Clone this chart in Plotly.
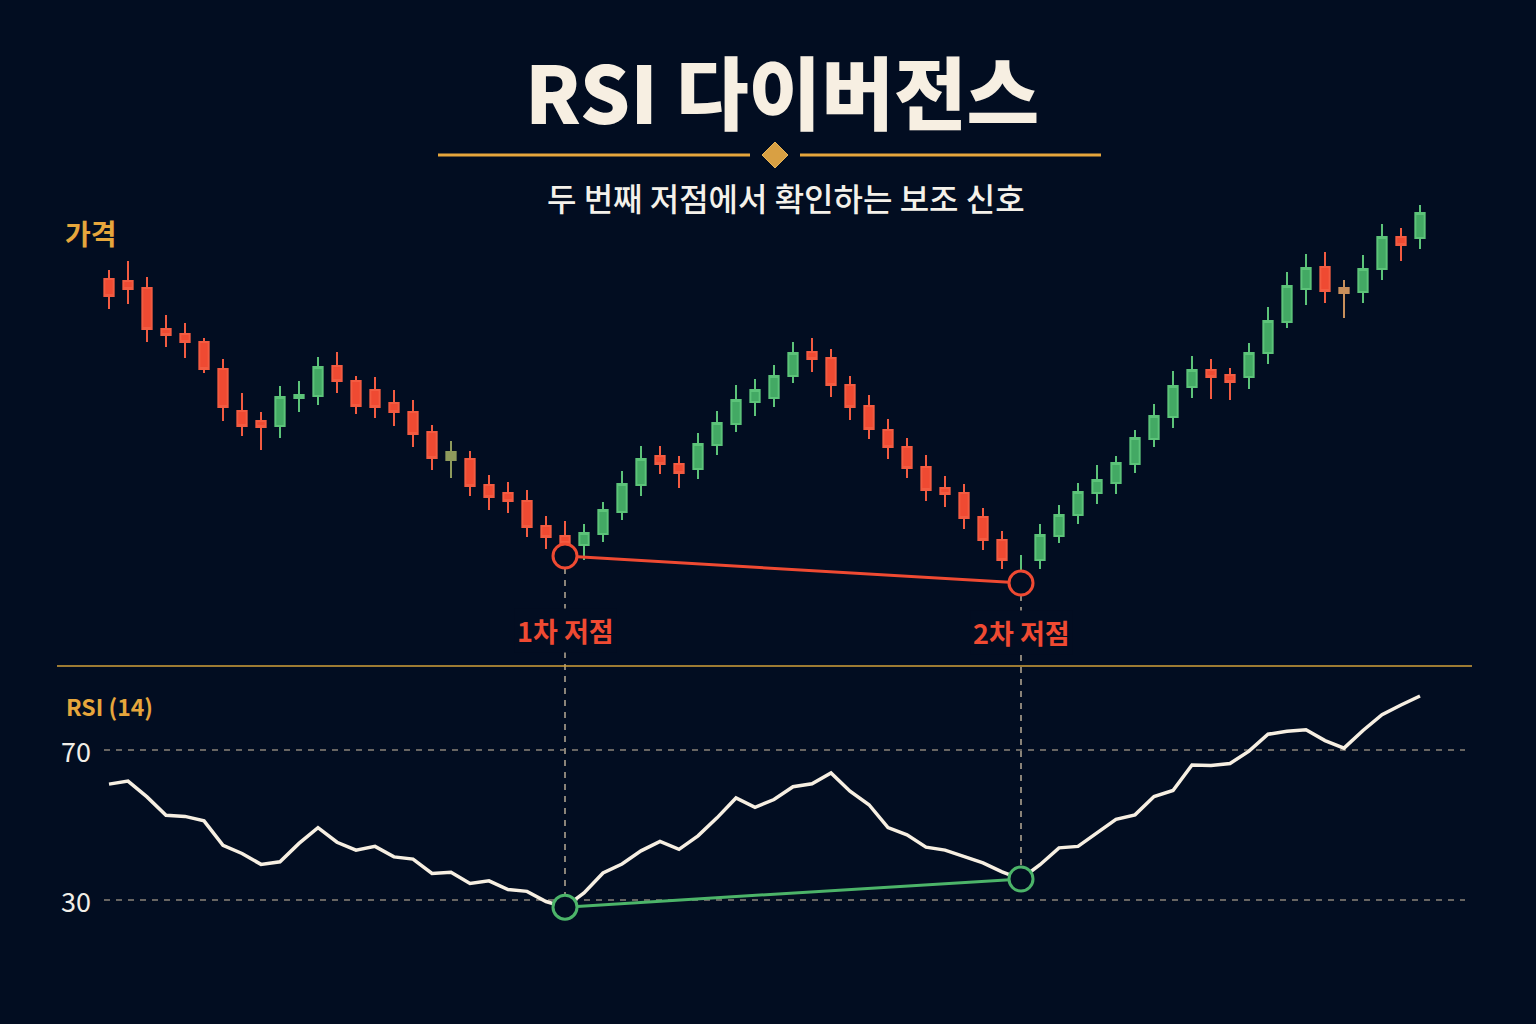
import plotly.graph_objects as go

# ---------------- data ----------------
opens = [132.1, 131.9, 131.2, 127.1, 126.6, 125.8, 123.1, 118.9, 117.9, 117.4,
         120.2, 120.4, 123.4, 121.9, 121.0, 119.7, 118.8, 116.8, 114.8, 114.1,
         111.5, 110.7, 109.9, 107.4, 106.4, 105.5, 106.6, 108.8, 111.5, 114.4,
         113.6, 113.1, 115.5, 117.6, 119.8, 120.2, 122.4, 124.8, 124.2, 121.5,
         119.4, 117.0, 115.3, 113.3, 111.2, 110.7, 108.3, 106.0, 102.0, 104.0,
         106.4, 108.5, 110.7, 111.7, 113.6, 116.1, 118.3, 121.3, 123.0, 122.5,
         122.3, 124.7, 127.8, 131.1, 133.3, 131.2, 130.8, 133.1, 136.3, 136.2]
highs = [133.0, 133.9, 132.3, 128.5, 127.7, 126.2, 124.1, 120.7, 118.8, 121.4,
         121.9, 124.3, 124.8, 122.4, 122.3, 121.0, 120.0, 117.5, 115.9, 114.9,
         112.5, 111.8, 111.0, 108.4, 107.9, 107.6, 109.8, 112.9, 115.4, 115.4,
         114.4, 116.7, 118.9, 121.5, 122.1, 123.5, 125.8, 126.2, 125.1, 122.4,
         120.5, 118.1, 116.2, 114.5, 112.4, 111.6, 109.2, 106.9, 104.5, 107.6,
         109.5, 111.7, 113.5, 114.4, 117.0, 119.6, 122.9, 124.4, 124.1, 123.2,
         125.7, 129.3, 132.8, 134.6, 134.8, 132.0, 134.5, 137.6, 137.2, 139.5]
lows = [129.1, 129.6, 125.8, 125.3, 124.2, 122.7, 117.9, 116.4, 115.0, 116.2,
        118.8, 119.5, 120.7, 118.6, 118.2, 117.4, 115.3, 113.0, 112.2, 110.4,
        109.0, 108.7, 106.3, 105.1, 104.4, 104.0, 105.8, 108.0, 110.4, 112.6,
        111.2, 112.1, 114.5, 116.8, 118.4, 119.3, 121.7, 122.8, 120.3, 118.0,
        116.1, 114.1, 112.2, 109.9, 109.3, 107.1, 105.0, 103.1, 101.7, 103.1,
        105.7, 107.6, 109.6, 110.6, 112.7, 115.3, 117.2, 120.2, 120.1, 120.0,
        121.1, 123.6, 127.2, 129.5, 129.7, 128.2, 129.7, 132.0, 133.9, 135.1]
closes = [130.4, 131.1, 127.1, 126.5, 125.8, 123.1, 119.3, 117.4, 117.3, 120.3,
          120.5, 123.3, 121.9, 119.4, 119.3, 118.8, 116.6, 114.2, 114.0, 111.4,
          110.3, 109.9, 107.3, 106.3, 105.7, 106.7, 109.0, 111.6, 114.1, 113.6,
          112.7, 115.6, 117.7, 120.0, 121.0, 122.4, 124.7, 124.1, 121.5, 119.3,
          117.1, 115.3, 113.2, 111.0, 110.6, 108.2, 106.0, 104.0, 102.8, 106.5,
          108.5, 110.8, 112.0, 113.7, 116.2, 118.4, 121.4, 123.0, 122.3, 121.8,
          124.7, 127.9, 131.4, 133.2, 130.9, 130.7, 133.1, 136.3, 135.5, 138.7]
rsi = [60.9, 61.7, 57.5, 52.6, 52.3, 51.1, 44.6, 42.4, 39.5, 40.2,
       45.1, 49.3, 45.4, 43.3, 44.3, 41.5, 40.9, 37.1, 37.4, 34.4,
       35.1, 32.8, 32.3, 29.6, 28.1, 31.9, 37.2, 39.6, 43.1, 45.6,
       43.5, 47.1, 51.9, 57.2, 54.7, 56.8, 60.2, 61.0, 63.9, 59.0,
       55.4, 49.3, 47.4, 44.1, 43.3, 41.6, 39.9, 37.5, 35.6, 39.4,
       43.9, 44.3, 48.0, 51.5, 52.7, 57.6, 59.2, 66.0, 65.9, 66.4,
       69.7, 74.2, 75.0, 75.4, 72.5, 70.5, 75.2, 79.4, 82.0, 84.4]
doji_idx = [18, 65]          # neutral-coloured candles
low_idx = [24, 48]           # first and second low
rsi_levels = [70, 30]

title_text = "RSI 다이버전스"
subtitle_text = "두 번째 저점에서 확인하는 보조 신호"
price_label = "가격"
rsi_label = "RSI (14)"
low_labels = ["1차 저점", "2차 저점"]

# ---------------- style ----------------
BG = "#020d21"
RED = "#ef4a32"
RED_LINE = "#f35b41"
GREEN = "#43a964"
GREEN_LINE = "#5cc379"
DOJI_COLORS = ["#8e9a5c", "#c88f5b"]
GOLD = "#e6a63c"
CREAM = "#f7efe2"
RSI_GREEN = "#4cb469"
DASH_GRAY = "#8a8378"
FONT = "Noto Sans CJK KR"

W, H = 1536, 1024
X_RANGE = [-109 / 19, (W - 109) / 19]
Y_RANGE = [57.6, 160.0]
Y2_RANGE = [30 - 124 / 3.75, 70 + 750 / 3.75]

n = len(opens)
xs = list(range(n))


def px(v):
    return v / W


def py(v):
    return 1 - v / H


def price_paper(p):
    return (p - Y_RANGE[0]) / (Y_RANGE[1] - Y_RANGE[0])


def rsi_paper(r):
    return (r - Y2_RANGE[0]) / (Y2_RANGE[1] - Y2_RANGE[0])


fig = go.Figure()

groups = {
    "up": [i for i in xs if i not in doji_idx and closes[i] >= opens[i]],
    "down": [i for i in xs if i not in doji_idx and closes[i] < opens[i]],
}
styles = {"up": (GREEN, GREEN_LINE), "down": (RED, RED_LINE)}
for k, idx in groups.items():
    fill, line = styles[k]
    fig.add_trace(go.Candlestick(
        x=[xs[i] for i in idx], open=[opens[i] for i in idx], high=[highs[i] for i in idx],
        low=[lows[i] for i in idx], close=[closes[i] for i in idx],
        increasing=dict(fillcolor=fill, line=dict(color=line, width=2)),
        decreasing=dict(fillcolor=fill, line=dict(color=line, width=2)),
        showlegend=False, hoverinfo="skip"))
for j, i in enumerate(doji_idx):
    c = DOJI_COLORS[j]
    fig.add_trace(go.Candlestick(
        x=[xs[i]], open=[opens[i]], high=[highs[i]], low=[lows[i]], close=[closes[i]],
        increasing=dict(fillcolor=c, line=dict(color=c, width=2)),
        decreasing=dict(fillcolor=c, line=dict(color=c, width=2)),
        showlegend=False, hoverinfo="skip"))

# price divergence line and circles
fig.add_trace(go.Scatter(
    x=[xs[i] for i in low_idx], y=[lows[i] for i in low_idx], mode="lines",
    line=dict(color=RED, width=3), showlegend=False, hoverinfo="skip"))
fig.add_trace(go.Scatter(
    x=[xs[i] for i in low_idx], y=[lows[i] for i in low_idx], mode="markers",
    marker=dict(symbol="circle", size=24, color=BG, line=dict(color=RED, width=3)),
    showlegend=False, hoverinfo="skip"))

# RSI line
fig.add_trace(go.Scatter(
    x=xs, y=rsi, yaxis="y2", mode="lines", line=dict(color=CREAM, width=3.5),
    showlegend=False, hoverinfo="skip"))
fig.add_trace(go.Scatter(
    x=[xs[i] for i in low_idx], y=[rsi[i] for i in low_idx], yaxis="y2", mode="lines",
    line=dict(color=RSI_GREEN, width=3), showlegend=False, hoverinfo="skip"))
fig.add_trace(go.Scatter(
    x=[xs[i] for i in low_idx], y=[rsi[i] for i in low_idx], yaxis="y2", mode="markers",
    marker=dict(symbol="circle", size=24, color=BG, line=dict(color=RSI_GREEN, width=3)),
    showlegend=False, hoverinfo="skip"))

shapes = []
# RSI level lines
for lv in rsi_levels:
    shapes.append(dict(type="line", xref="paper", yref="y2", x0=px(104), x1=px(1465),
                       y0=lv, y1=lv, line=dict(color=DASH_GRAY, width=1.5, dash="6px,6px"),
                       layer="below"))
# vertical connectors
for i in low_idx:
    shapes.append(dict(type="line", xref="x", yref="paper", x0=xs[i], x1=xs[i],
                       y0=price_paper(lows[i]), y1=rsi_paper(rsi[i]),
                       line=dict(color=DASH_GRAY, width=2, dash="6px,6px"), layer="below"))
# separator
shapes.append(dict(type="line", xref="paper", yref="paper", x0=px(57), x1=px(1472),
                   y0=py(666), y1=py(666), line=dict(color="#d2a03a", width=1.5)))
# title ornament
shapes.append(dict(type="line", xref="paper", yref="paper", x0=px(438), x1=px(750),
                   y0=py(155), y1=py(155), line=dict(color=GOLD, width=3)))
shapes.append(dict(type="line", xref="paper", yref="paper", x0=px(800), x1=px(1101),
                   y0=py(155), y1=py(155), line=dict(color=GOLD, width=3)))
cx, cy, r = 775, 155, 13
shapes.append(dict(type="path", xref="paper", yref="paper",
                   path=f"M {px(cx)} {py(cy - r)} L {px(cx + r)} {py(cy)} L {px(cx)} {py(cy + r)} L {px(cx - r)} {py(cy)} Z",
                   fillcolor="#d9a043", line=dict(color="#e8b457", width=1)))

annotations = [
    dict(text=title_text, x=px(782), y=py(89), xref="paper", yref="paper",
         showarrow=False, xanchor="center", yanchor="middle",
         font=dict(family=FONT, size=79, color=CREAM, weight=800)),
    dict(text=subtitle_text, x=px(786), y=py(197), xref="paper", yref="paper",
         showarrow=False, xanchor="center", yanchor="middle",
         font=dict(family=FONT, size=32, color="#f4f1ea", weight=500)),
    dict(text=price_label, x=px(63), y=py(233), xref="paper", yref="paper",
         showarrow=False, xanchor="left", yanchor="middle",
         font=dict(family=FONT, size=28, color=GOLD, weight=700)),
    dict(text=rsi_label, x=px(64), y=py(706), xref="paper", yref="paper",
         showarrow=False, xanchor="left", yanchor="middle",
         font=dict(family=FONT, size=23, color=GOLD, weight=700)),
]
for lv in rsi_levels:
    annotations.append(dict(text=str(lv), x=px(93), y=lv, xref="paper", yref="y2",
                            showarrow=False, xanchor="right", yanchor="middle",
                            font=dict(family=FONT, size=27, color="#f1eee8")))
for lbl, i, ypx in zip(low_labels, low_idx, [630, 632]):
    annotations.append(dict(text=lbl, x=xs[i], y=py(ypx), xref="x", yref="paper",
                            showarrow=False, xanchor="center", yanchor="middle",
                            bgcolor=BG, borderpad=2,
                            font=dict(family=FONT, size=27, color=RED, weight=700)))

fig.update_layout(
    width=W, height=H, margin=dict(l=0, r=0, t=0, b=0),
    paper_bgcolor=BG, plot_bgcolor=BG,
    xaxis=dict(range=X_RANGE, visible=False, rangeslider=dict(visible=False), fixedrange=True),
    yaxis=dict(range=Y_RANGE, visible=False, fixedrange=True),
    yaxis2=dict(range=Y2_RANGE, visible=False, overlaying="y", fixedrange=True),
    shapes=shapes, annotations=annotations, showlegend=False,
)

fig.write_html("out.html", post_script="document.body.style.margin='0px';",
               config={"displayModeBar": False})
